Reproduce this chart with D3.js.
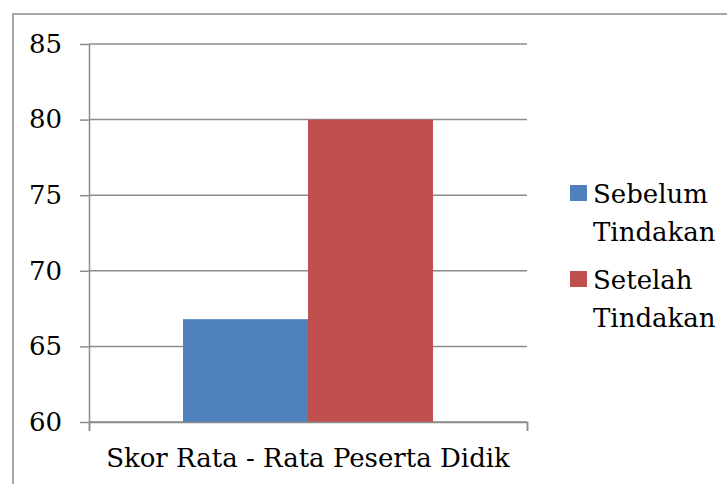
<!DOCTYPE html>
<html>
<head>
<meta charset="utf-8">
<script src="https://d3js.org/d3.v7.min.js"></script>
<style>
  body { margin: 0; background: #fff; }
</style>
</head>
<body>
<svg id="chart"></svg>
<script>
// chart data
var categories = ["Skor Rata - Rata Peserta Didik"];
var seriesNames = ["Sebelum Tindakan", "Setelah Tindakan"];
var seriesValues = [66.8, 80];
var seriesColors = ["#4f81bd", "#c0504d"];
var yTicks = [60, 65, 70, 75, 80, 85];

var W = 727, H = 484;
// Liberation Serif falls back to a sans face above ~30px here, DejaVu Serif stays serif
var fontFam = "'DejaVu Serif'";
var fontSize = "26px";
var gridColor = "#8c8c8c";
var svg = d3.select("#chart").attr("width", W).attr("height", H);

function serif(sel) {
    return sel.style("font-family", fontFam).style("font-size", fontSize).style("fill", "#000");
}

// outer frame
svg.append("rect")
    .attr("x", 13).attr("y", 14)
    .attr("width", W + 10).attr("height", H + 10)
    .attr("fill", "none").attr("stroke", gridColor).attr("stroke-width", 1.5);

var plot = { left: 89, right: 527, top: 44, bottom: 422 };

var y = d3.scaleLinear().domain([60, 85]).range([plot.bottom, plot.top]);
var x0 = d3.scaleBand().domain(categories).range([plot.left, plot.right]).paddingInner(0).paddingOuter(0.376);
var x1 = d3.scaleBand().domain(seriesNames).range([0, x0.bandwidth()]);

// y axis
var yAxis = svg.append("g")
    .attr("transform", "translate(" + plot.left + ",0)")
    .call(d3.axisLeft(y).tickValues(yTicks).tickSize(9).tickSizeOuter(0).tickPadding(18));
yAxis.select(".domain").attr("stroke", gridColor).attr("stroke-width", 1.5);
yAxis.selectAll(".tick line").attr("stroke", gridColor).attr("stroke-width", 1.5);
serif(yAxis.selectAll(".tick text"));

// gridlines
svg.append("g").selectAll("line")
    .data(yTicks)
    .enter().append("line")
    .attr("x1", plot.left).attr("x2", plot.right)
    .attr("y1", function(d) { return y(d); })
    .attr("y2", function(d) { return y(d); })
    .attr("stroke", gridColor).attr("stroke-width", 1.5);

// bars
svg.append("g").selectAll("rect")
    .data(seriesValues)
    .enter().append("rect")
    .attr("x", function(d, i) { return x0(categories[0]) + x1(seriesNames[i]); })
    .attr("y", function(d) { return y(d); })
    .attr("width", x1.bandwidth())
    .attr("height", function(d) { return y(60) - y(d); })
    .attr("fill", function(d, i) { return seriesColors[i]; });

// x axis
var xAxis = svg.append("g")
    .attr("transform", "translate(0," + plot.bottom + ")")
    .call(d3.axisBottom(d3.scaleLinear().domain([0, 1]).range([plot.left, plot.right]))
        .tickValues([0, 1]).tickSize(9).tickFormat(""));
xAxis.select(".domain").attr("stroke", gridColor).attr("stroke-width", 1.5);
xAxis.selectAll(".tick line").attr("stroke", gridColor).attr("stroke-width", 1.5);

serif(svg.append("text"))
    .attr("x", x0(categories[0]) + x0.bandwidth() / 2)
    .attr("y", 467)
    .attr("text-anchor", "middle")
    .text(categories[0]);

// legend
var legend = svg.append("g").selectAll("g")
    .data(seriesNames)
    .enter().append("g")
    .attr("transform", function(d, i) { return "translate(570," + (185 + i * 86) + ")"; });
legend.append("rect")
    .attr("width", 17).attr("height", 16)
    .attr("fill", function(d, i) { return seriesColors[i]; });
legend.each(function(d) {
    var words = d.split(" ");
    var t = serif(d3.select(this).append("text")).attr("x", 23).attr("y", 18);
    words.forEach(function(w, j) {
        t.append("tspan").attr("x", 23).attr("dy", j === 0 ? 0 : 37.5).text(w);
    });
});
</script>
</body>
</html>
